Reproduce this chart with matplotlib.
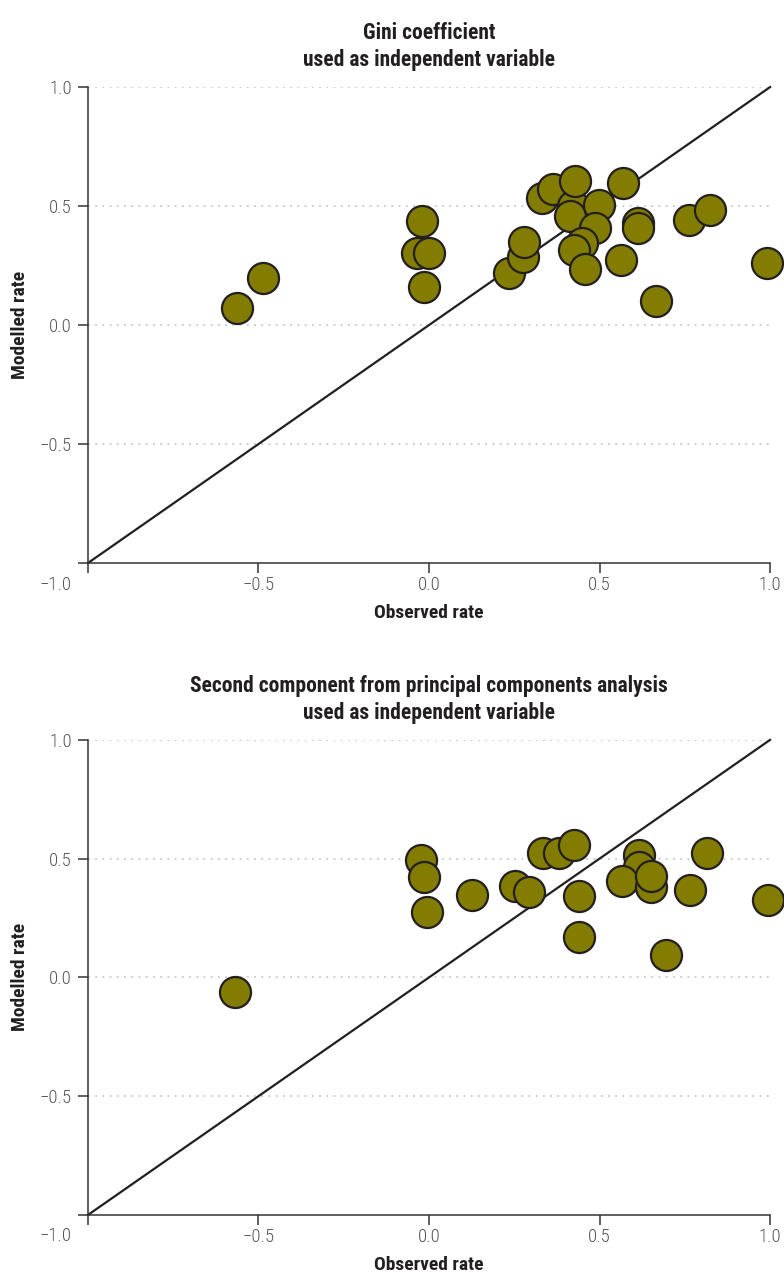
import numpy as np
from matplotlib import pyplot as plt

# Gini coefficient panel
gini_obs = [-0.562, -0.488, -0.021, -0.036, 0.001, -0.015,
            0.236, 0.277, 0.279, 0.331, 0.363, 0.421, 0.427, 0.412,
            0.497, 0.487, 0.448, 0.426, 0.456, 0.568, 0.562, 0.614,
            0.614, 0.666, 0.763, 0.824, 0.992]
gini_mod = [0.073, 0.199, 0.436, 0.301, 0.301, 0.161,
            0.218, 0.286, 0.347, 0.535, 0.570, 0.500, 0.605, 0.458,
            0.504, 0.409, 0.346, 0.314, 0.234, 0.598, 0.272, 0.430,
            0.409, 0.101, 0.440, 0.482, 0.260]

# Second principal component panel
pca_obs = [-0.569, -0.023, -0.015, -0.007, 0.126, 0.252, 0.294,
           0.335, 0.382, 0.426, 0.439, 0.439, 0.617, 0.617, 0.566,
           0.650, 0.650, 0.694, 0.765, 0.816, 0.995]
pca_mod = [-0.062, 0.493, 0.422, 0.275, 0.349, 0.383, 0.359,
           0.523, 0.523, 0.556, 0.341, 0.170, 0.514, 0.464, 0.408,
           0.380, 0.429, 0.093, 0.366, 0.523, 0.324]

titles = ['Gini coefficient\nused as independent variable',
          'Second component from principal components analysis\nused as independent variable']
ticks = [-1.0, -0.5, 0.0, 0.5, 1.0]
tick_labels = ['\u22121.0', '\u22120.5', '0.0', '0.5', '1.0']

plt.rcParams['font.family'] = ['Liberation Sans Narrow', 'Roboto Condensed', 'Lato', 'DejaVu Sans']

fig = plt.figure(figsize=(7.84, 12.77), dpi=100)
ax1 = fig.add_axes([0.1122, 0.5591, 0.870, 0.3727])
ax2 = fig.add_axes([0.1122, 0.0486, 0.870, 0.3720])

for ax, xs, ys, title in [(ax1, gini_obs, gini_mod, titles[0]),
                          (ax2, pca_obs, pca_mod, titles[1])]:
    ax.set_xlim(-1, 1)
    ax.set_ylim(-1, 1)
    for yv in [-0.5, 0.0, 0.5, 1.0]:
        ax.axhline(yv, color='#c8c8c8', ls=(0, (1, 3)), lw=1.3, zorder=0)
    ax.plot([-1, 1], [-1, 1], color='#231f20', lw=1.6, zorder=1, clip_on=False)
    ax.scatter(xs, ys, s=500, facecolor='#827c00', edgecolor='#231f20',
               linewidth=1.6, zorder=3, clip_on=False)
    for s in ['top', 'right']:
        ax.spines[s].set_visible(False)
    for s in ['left', 'bottom']:
        ax.spines[s].set_color('#333333')
        ax.spines[s].set_linewidth(1.1)
    ax.set_xticks(ticks)
    ax.set_xticklabels([''] + tick_labels[1:], fontweight='light')
    ax.set_yticks(ticks)
    ax.set_yticklabels([''] + tick_labels[1:], fontweight='light')
    ax.tick_params(length=7.5, width=1.1, color='#333333', labelcolor='#555555',
                   labelsize=13.5)
    ax.tick_params(axis='x', pad=2)
    ax.tick_params(axis='y', pad=4)
    ax.annotate(tick_labels[0], xy=(-1, -1), xytext=(-12, -9),
                textcoords='offset points', ha='right', va='top', fontweight='light',
                fontsize=13.5, color='#555555', annotation_clip=False)
    ax.set_xlabel('Observed rate', fontsize=14, fontweight='bold',
                  color='#231f20', labelpad=7)
    ax.set_ylabel('Modelled rate', fontsize=14, fontweight='bold',
                  color='#231f20', labelpad=8)
    ax.set_title(title, fontsize=15.5, fontweight='bold', color='#231f20',
                 pad=15, linespacing=1.3)

plt.savefig('out.png', dpi=100)
